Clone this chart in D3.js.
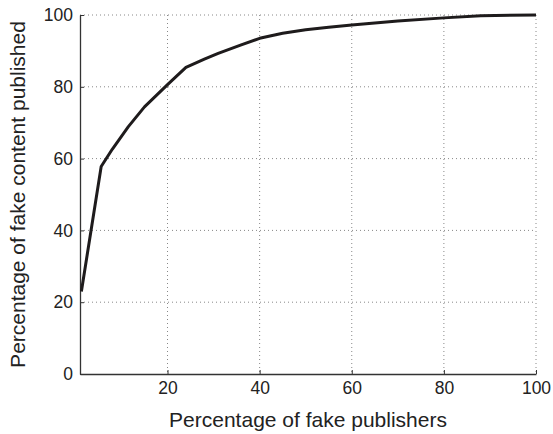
<!DOCTYPE html>
<html>
<head>
<meta charset="utf-8">
<script src="https://cdn.jsdelivr.net/npm/d3@7"></script>
<style>
  body { margin: 0; background: #fff; }
  svg text { font-family: "Liberation Sans", Arial, sans-serif; fill: #222; }
</style>
</head>
<body>
<div id="chart"></div>
<script>
var publishers = [1.3, 5.6, 8, 11.5, 15, 20, 24, 28, 31, 36, 40, 45, 50, 55, 60, 70, 80, 88, 100];
var content = [23, 57.8, 62.6, 68.9, 74.4, 80.6, 85.4, 87.7, 89.3, 91.7, 93.5, 94.9, 95.9, 96.6, 97.2, 98.3, 99.2, 99.8, 100];
var xTicks = [20, 40, 60, 80, 100];
var yTicks = [0, 20, 40, 60, 80, 100];

var W = 553, H = 434;
var margin = { top: 15, right: 17, bottom: 60, left: 80 };
var width = W - margin.left - margin.right,
    height = H - margin.top - margin.bottom;

var svg = d3.select("#chart").append("svg")
  .attr("width", W)
  .attr("height", H);
var g = svg.append("g")
  .attr("transform", "translate(" + margin.left + "," + margin.top + ")");

var x = d3.scaleLinear().domain([1, 100]).range([0, width]);
var y = d3.scaleLinear().domain([0, 100]).range([height, 0]);

// dotted grid
g.selectAll(".vgrid").data(xTicks).enter().append("line")
  .attr("x1", function(d) { return x(d); })
  .attr("x2", function(d) { return x(d); })
  .attr("y1", 0).attr("y2", height)
  .attr("stroke", "#888").attr("stroke-width", 1)
  .attr("stroke-dasharray", "1,3");
g.selectAll(".hgrid").data(yTicks.slice(1)).enter().append("line")
  .attr("x1", 0).attr("x2", width)
  .attr("y1", function(d) { return y(d); })
  .attr("y2", function(d) { return y(d); })
  .attr("stroke", "#888").attr("stroke-width", 1)
  .attr("stroke-dasharray", "1,3");

// axes, ticks pointing inward
var xAxis = g.append("g")
  .attr("transform", "translate(0," + height + ")")
  .call(d3.axisBottom(x).tickValues(xTicks).tickSizeInner(-4).tickSizeOuter(0).tickPadding(8));
var yAxis = g.append("g")
  .call(d3.axisLeft(y).tickValues(yTicks).tickSizeInner(-4).tickSizeOuter(0).tickPadding(7));

[xAxis, yAxis].forEach(function(a) {
  a.attr("font-size", null).attr("font-family", null);
  a.select(".domain").attr("stroke", "#333").attr("stroke-width", 1.3);
  a.selectAll(".tick line").attr("stroke", "#333");
  a.selectAll(".tick text").style("font-size", "17.5px").attr("fill", "#222");
});

var line = d3.line()
  .x(function(d, i) { return x(publishers[i]); })
  .y(function(d) { return y(d); });

g.append("path")
  .datum(content)
  .attr("d", line)
  .attr("fill", "none")
  .attr("stroke", "#1e1b1c")
  .attr("stroke-width", 3)
  .attr("stroke-linejoin", "round");

svg.append("text")
  .attr("x", margin.left + width / 2)
  .attr("y", 427)
  .attr("text-anchor", "middle")
  .style("font-size", "21px")
  .text("Percentage of fake publishers");

svg.append("text")
  .attr("transform", "translate(25," + (margin.top + height / 2) + ") rotate(-90)")
  .attr("text-anchor", "middle")
  .style("font-size", "21px")
  .text("Percentage of fake content published");
</script>
</body>
</html>
